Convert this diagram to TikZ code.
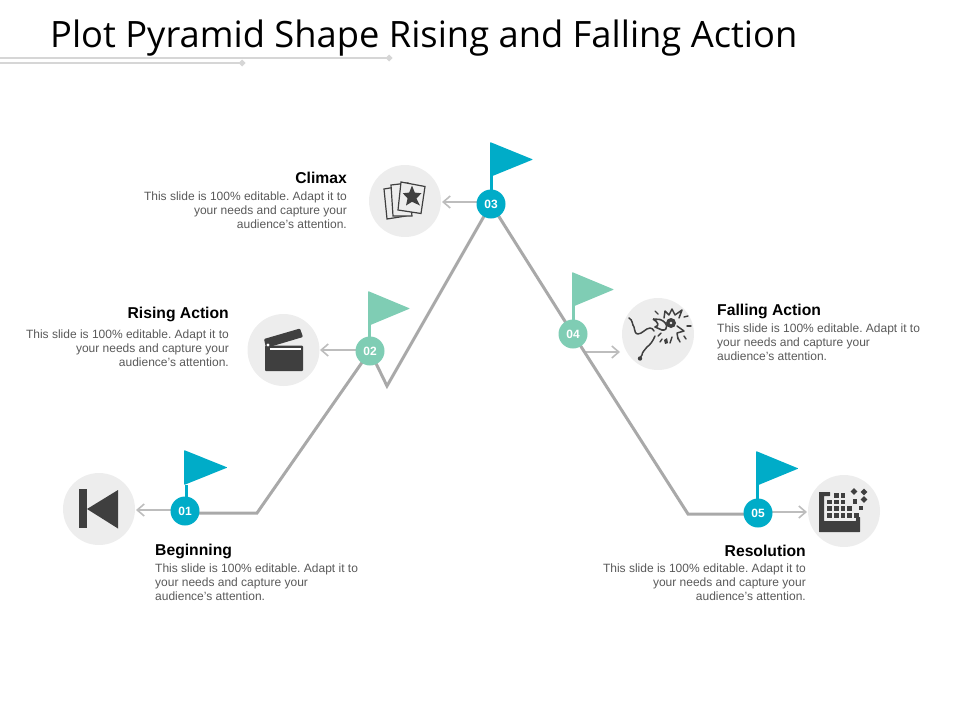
\documentclass[tikz,border=0pt]{standalone}
\usepackage{fontspec}
\setmainfont{Liberation Sans}
\newfontfamily\titlefont{Open Sans}
\usetikzlibrary{arrows.meta}
\definecolor{teal}{HTML}{00ACC8}
\definecolor{mint}{HTML}{7FCDB4}
\definecolor{pathgray}{HTML}{A9A9A9}
\definecolor{arrowgray}{HTML}{BDBDBD}
\definecolor{disc}{HTML}{EDEDED}
\definecolor{icon}{HTML}{3F3F3F}
\definecolor{bodytext}{HTML}{595959}
\definecolor{rule}{HTML}{D6D6D6}
\tikzset{
  x=1pt,y=-1pt,
  pathline/.style={draw=pathgray,line width=3pt,line join=miter},
  arrowline/.style={draw=arrowgray,line width=1.5pt,-{Straight Barb[length=7pt,width=12pt,line width=1.6pt]}},
  numdot/.style={circle,minimum size=29pt,inner sep=0pt,text=white,font=\bfseries\fontsize{12}{12}\selectfont},
  icondisc/.style={circle,fill=disc,minimum size=72pt,inner sep=0pt},
  head/.style={font=\bfseries\fontsize{15.7}{18}\selectfont,text=black,inner sep=0pt},
  bodyl/.style={font=\frenchspacing\fontsize{12}{14}\selectfont,text=bodytext,align=left,inner sep=0pt},
  bodyr/.style={font=\frenchspacing\fontsize{12}{14}\selectfont,text=bodytext,align=right,inner sep=0pt},
  pole/.style={draw,line width=3pt},
}
\begin{document}
\begin{tikzpicture}
\useasboundingbox (0,0) rectangle (960,720);
% title and rules
\node[anchor=west,inner sep=0pt,font=\titlefont\fontsize{36.3}{40}\selectfont] (title) at (50,38) {Plot Pyramid Shape Rising and Falling Action};
\coordinate (r1a) at (0,58); \coordinate (r1b) at (389,58);
\coordinate (r2a) at (0,63); \coordinate (r2b) at (242,63);
\draw[rule,line width=1.8pt] (r1a) -- (r1b);
\draw[rule,line width=1.8pt] (r2a) -- (r2b);
\fill[rule] (389,54.5) -- (392.5,58) -- (389,61.5) -- (385.5,58) -- cycle;
\fill[rule] (242,59.5) -- (245.5,63) -- (242,66.5) -- (238.5,63) -- cycle;
% discs
\node[icondisc] (c1) at (99,509) {};
\node[icondisc] (c2) at (283.5,350) {};
\node[icondisc] (c3) at (405,201) {};
\node[icondisc] (c4) at (658,334) {};
\node[icondisc] (c5) at (844,511) {};
% number dots positions
\coordinate (p1) at (185,511);
\coordinate (p2) at (370,351);
\coordinate (p3) at (491,204);
\coordinate (p4) at (573,334);
\coordinate (p5) at (758,513);
\coordinate (k1) at (257,513);
\coordinate (k2) at (387,386);
\coordinate (k3) at (688,514);
% arrows (their inner ends are hidden under the number dots)
\coordinate (e1) at (136,510);
\coordinate (e2) at (320,350);
\coordinate (e3) at (442,202);
\coordinate (s4) at (585,352);
\coordinate (e4) at (620,352);
\coordinate (e5) at (807,512);
\draw[arrowline] (p1 |- e1) -- (e1);
\draw[arrowline] (p2 |- e2) -- (e2);
\draw[arrowline] (p3 |- e3) -- (e3);
\draw[arrowline] (s4) -- (e4);
\draw[arrowline] (p5 |- e5) -- (e5);
% mountain line
\draw[pathline] (p1 |- k1) -- (k1) -- (p2) -- (k2) -- (p3) -- (p4) -- (k3) -- (p5 |- k3);
% flags
\draw[pole,teal] (186,485) -- (186,511);
\fill[teal,rounded corners=0.8pt] (184,450) -- (227.5,467.5) -- (184,485) -- cycle;
\draw[pole,mint] (369.5,325) -- (369.5,351);
\fill[mint,rounded corners=0.8pt] (368,291) -- (410,308.5) -- (368,326) -- cycle;
\draw[pole,teal] (491.5,176) -- (491.5,204);
\fill[teal,rounded corners=0.8pt] (490,142) -- (533,159.5) -- (490,177) -- cycle;
\draw[pole,mint] (573.5,306) -- (573.5,334);
\fill[mint,rounded corners=0.8pt] (572,272) -- (614,289.5) -- (572,307) -- cycle;
\draw[pole,teal] (757.5,485) -- (757.5,513);
\fill[teal,rounded corners=0.8pt] (756,451) -- (798.5,468.5) -- (756,486) -- cycle;
% number dots
\node[numdot,fill=teal] (n1) at (p1) {01};
\node[numdot,fill=mint] (n2) at (p2) {02};
\node[numdot,fill=teal] (n3) at (p3) {03};
\node[numdot,fill=mint] (n4) at (p4) {04};
\node[numdot,fill=teal] (n5) at (p5) {05};
% icon 1
\fill[icon] (79,489) rectangle (87,528);
\fill[icon] (118,490) -- (118,528.5) -- (87,509) -- cycle;
% icon 2
\fill[icon,rounded corners=1pt] (264,339) -- (300,328.5) -- (303,337) -- (266,348) -- cycle;
\fill[icon,rounded corners=1pt] (265,345.5) -- (303,345.5) -- (303,371) -- (265,371) -- cycle;
\fill[white] (270,348) rectangle (301,349.5);
\fill[white] (268,345) circle (1.6);
% icon 3
\begin{scope}[draw=icon,fill=disc,line width=1.2pt]
\filldraw (384,189) -- (402,186) -- (406,216) -- (387,219) -- cycle;
\filldraw (391,185) -- (408,183) -- (412,216) -- (393,216) -- cycle;
\filldraw (401,182) -- (425,186.5) -- (421,213.5) -- (398,210) -- cycle;
\end{scope}
\fill[icon] (412,185.5) -- (414.8,192.6) -- (421.5,193.2) -- (416.4,198.4) -- (420,205.5) -- (412,201.8) -- (406,205.5) -- (407.6,198.4) -- (402.8,193.2) -- (409.2,192.6) -- cycle;
% icon 4
\draw[icon,line width=1.5pt,line cap=round,line join=round] (629,318) .. controls (633,320) and (632,325) .. (634,327) .. controls (635,331) and (635,334) .. (638,334) .. controls (642,334) and (646,328) .. (650,328) .. controls (652,328) and (653,329) .. (654,331)
 (655,336) .. controls (653,341) and (650,345) .. (647,347) .. controls (645,350) and (642,352) .. (642,355) -- (640,358);
\fill[icon] (640,358.5) circle (2.2);
\draw[icon,line width=1.6pt,fill=disc,line join=round] (653,319) -- (660,319.5) .. controls (668,322) and (669,331) .. (662,330) -- (655,327) .. controls (660,326) and (658,322) .. (653,319);
\fill[icon] (671,323) circle (5);
\fill[disc] (671,323) circle (1.4);
\draw[icon,line width=1.5pt,line join=round,line cap=round] (664,318) -- (665,311) -- (669,315) -- (672,309) -- (675,315) -- (682,310) -- (679,318)
 (677,326) -- (684,331) -- (677,333) -- (678,339);
\fill[icon] (664,340) -- (667,338) -- (668,343) -- (665,344) -- cycle;
\foreach \a/\b/\c/\d in {655/311/658/314, 684/317/688/316, 687/326/691/326, 684/336/686/339, 672/337/670/343, 678/338/680/342, 658/336/661/333, 660/342/662/339}{
  \draw[icon,line width=1.4pt,line cap=round] (\a,\b) -- (\c,\d);
}
% icon 5
\fill[icon,rounded corners=0.4pt] (819,492) -- (830,492) -- (830,496) -- (824,496) -- (824,521) -- (856,521) -- (856,517) -- (860,517) -- (860,532) -- (819,532) -- cycle;
\foreach \x/\y in {834/493,840.7/493, 827.3/499.7,834/499.7,840.7/499.7, 827.3/506.3,834/506.3,840.7/506.3,847.3/506.3, 827.3/513,834/513,840.7/513,847.3/513,854/513, 852.5/499,858.5/505.5}{
  \fill[icon] (\x,\y) rectangle (\x+4.7,\y+4.7);
}
\foreach \x/\y in {854/491.5,864/492,864/499.5}{
  \fill[icon] (\x,\y-3.3) -- (\x+3.3,\y) -- (\x,\y+3.3) -- (\x-3.3,\y) -- cycle;
}
% texts
\node[head,anchor=east] (t3) at (347,177.5) {Climax};
\node[bodyr,anchor=north east] (b3) at (347,192) {This slide is 100\% editable. Adapt it to\\your needs and capture your\\audience's attention.};
\node[head,anchor=east] (t2) at (229,314.5) {Rising Action};
\node[bodyr,anchor=north east] (b2) at (229,330) {This slide is 100\% editable. Adapt it to\\your needs and capture your\\audience's attention.};
\node[head,anchor=west] (t4) at (717,311) {Falling Action};
\node[bodyl,anchor=north west] (b4) at (717,324) {This slide is 100\% editable. Adapt it to\\your needs and capture your\\audience's attention.};
\node[head,anchor=west] (t1) at (155,551) {Beginning};
\node[bodyl,anchor=north west] (b1) at (155,564) {This slide is 100\% editable. Adapt it to\\your needs and capture your\\audience's attention.};
\node[head,anchor=east] (t5) at (806,551) {Resolution};
\node[bodyr,anchor=north east] (b5) at (806,564) {This slide is 100\% editable. Adapt it to\\your needs and capture your\\audience's attention.};
\end{tikzpicture}
\end{document}
